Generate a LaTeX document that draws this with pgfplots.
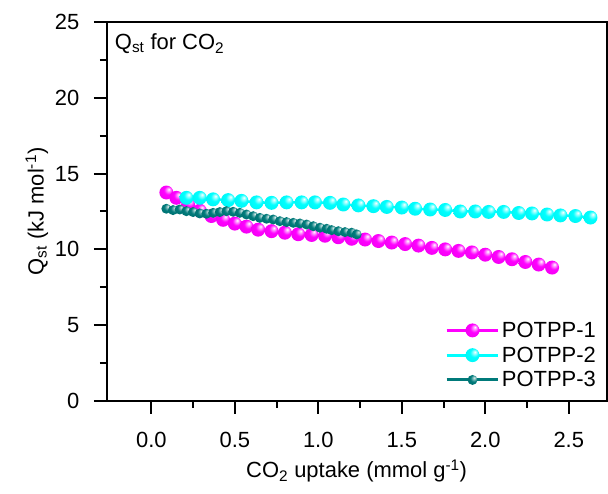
\documentclass[border=0pt]{standalone}
\usepackage{fontspec}
\setmainfont{Liberation Sans}
\usepackage{pgfplots}
\pgfplotsset{compat=1.18}

\definecolor{potA}{RGB}{255,0,255}
\definecolor{potB}{RGB}{0,255,255}
\definecolor{potC}{RGB}{0,122,122}

% flat balls with a small highlight, like the original markers
\pgfdeclareradialshading{ballA}{\pgfqpoint{9bp}{12bp}}{color(0bp)=(white); color(5bp)=(potA!35!white); color(15bp)=(potA); color(50bp)=(potA!90!black)}
\pgfdeclareradialshading{ballB}{\pgfqpoint{9bp}{12bp}}{color(0bp)=(white); color(5bp)=(potB!35!white); color(15bp)=(potB); color(50bp)=(potB!92!black)}
\pgfdeclareradialshading{ballC}{\pgfqpoint{9bp}{12bp}}{color(0bp)=(white!90!potC); color(6bp)=(potC!45!white); color(17bp)=(potC); color(50bp)=(potC!85!black)}
\pgfdeclareplotmark{ballA}{\pgfpathcircle{\pgfpointorigin}{\pgfplotmarksize}\pgfshadepath{ballA}{0}\pgfusepath{}}
\pgfdeclareplotmark{ballB}{\pgfpathcircle{\pgfpointorigin}{\pgfplotmarksize}\pgfshadepath{ballB}{0}\pgfusepath{}}
\pgfdeclareplotmark{ballC}{\pgfpathcircle{\pgfpointorigin}{\pgfplotmarksize}\pgfshadepath{ballC}{0}\pgfusepath{}}

\begin{document}
\begin{tikzpicture}[font=\fontsize{22bp}{26bp}\selectfont]
\begin{axis}[
  name=ax,
  scale only axis, width=501bp, height=380bp,
  xmin=-0.267, xmax=2.726, ymin=0, ymax=25,
  xtick={0,0.5,1.0,1.5,2.0,2.5}, ytick={0,5,10,15,20,25},
  minor x tick num=1, minor y tick num=1,
  tick align=outside, tick pos=left,
  major tick length=13bp, minor tick length=7bp,
  axis line style={line width=2bp},
  every tick/.style={black, line width=2bp},
  /pgf/number format/assume math mode=true,
  xticklabel style={yshift=-15bp, /pgf/number format/.cd, fixed, fixed zerofill, precision=1},
  yticklabel style={xshift=-11bp},
  xlabel={CO\textsubscript{2} uptake (mmol g\textsuperscript{-1})},
  ylabel={Q\textsubscript{st} (kJ mol\textsuperscript{-1})},
  xlabel style={at={(axis description cs:0.5,-0.185)}, anchor=center},
  ylabel style={at={(axis description cs:-0.14,0.5)}, anchor=center, rotate=0},
  legend style={draw=none, fill=none, at={(0.985,0.025)}, anchor=south east,
    row sep=4bp, inner sep=1bp},
  legend cell align=left,
  legend image code/.code={\draw[line width=3bp, mark repeat=2, mark phase=2]
    plot coordinates {(0bp,0bp) (26bp,0bp) (52bp,0bp)};},
]
% POTPP-1
\addplot[potA, line width=2.5bp, mark=ballA, mark size=7bp]
  coordinates {(0.09,13.75)(0.15,13.4)(0.22,12.95)(0.29,12.55)(0.36,12.2)(0.43,11.95)
  (0.50,11.7)(0.57,11.5)(0.64,11.3)(0.72,11.2)(0.80,11.1)(0.88,11.0)(0.96,10.95)
  (1.04,10.9)(1.12,10.8)(1.20,10.7)(1.28,10.65)(1.36,10.55)(1.44,10.45)(1.52,10.35)
  (1.60,10.25)(1.68,10.1)(1.76,10.0)(1.84,9.9)(1.92,9.8)(2.00,9.65)(2.08,9.5)
  (2.16,9.35)(2.24,9.17)(2.32,9.0)(2.40,8.8)};
% POTPP-2
\addplot[potB, line width=2.5bp, mark=ballB, mark size=7bp]
  coordinates {(0.21,13.4)(0.29,13.4)(0.37,13.3)(0.46,13.25)(0.54,13.2)(0.63,13.1)
  (0.72,13.07)(0.81,13.1)(0.90,13.1)(0.98,13.1)(1.07,13.07)(1.15,12.96)(1.24,12.9)
  (1.33,12.85)(1.41,12.8)(1.50,12.76)(1.58,12.68)(1.67,12.63)(1.76,12.6)(1.85,12.5)
  (1.94,12.5)(2.02,12.47)(2.11,12.47)(2.20,12.4)(2.28,12.37)(2.37,12.3)(2.45,12.24)
  (2.54,12.2)(2.63,12.1)};
% POTPP-3
\addplot[potC, line width=5bp, mark=ballC, mark size=5bp]
  coordinates {(0.09,12.68)(0.13,12.59)(0.17,12.63)(0.21,12.52)(0.25,12.46)(0.29,12.37)
  (0.33,12.35)(0.37,12.41)(0.41,12.46)(0.45,12.52)(0.49,12.48)(0.53,12.41)(0.57,12.3)
  (0.61,12.19)(0.65,12.08)(0.69,12.02)(0.73,11.97)(0.77,11.86)(0.81,11.8)(0.85,11.75)
  (0.89,11.71)(0.93,11.64)(0.97,11.53)(1.01,11.43)(1.05,11.36)(1.08,11.27)(1.12,11.2)
  (1.16,11.14)(1.20,11.1)(1.23,10.99)};
\legend{POTPP-1, POTPP-2, POTPP-3}
\node[anchor=north west, inner sep=0pt] at (rel axis cs:0.016,0.97)
  {Q\textsubscript{st} for CO\textsubscript{2}};
\end{axis}
% top and right frame edges, drawn again so they stay solid at the picture's edge
\draw[line width=2bp, line cap=rect] (ax.north west) -- (ax.north east) -- (ax.south east);
\pgfresetboundingbox
\path[use as bounding box] ([xshift=-107bp,yshift=-93bp]ax.south west)
  rectangle ([xshift=1.5bp,yshift=22bp]ax.north east);
\end{tikzpicture}
\end{document}
